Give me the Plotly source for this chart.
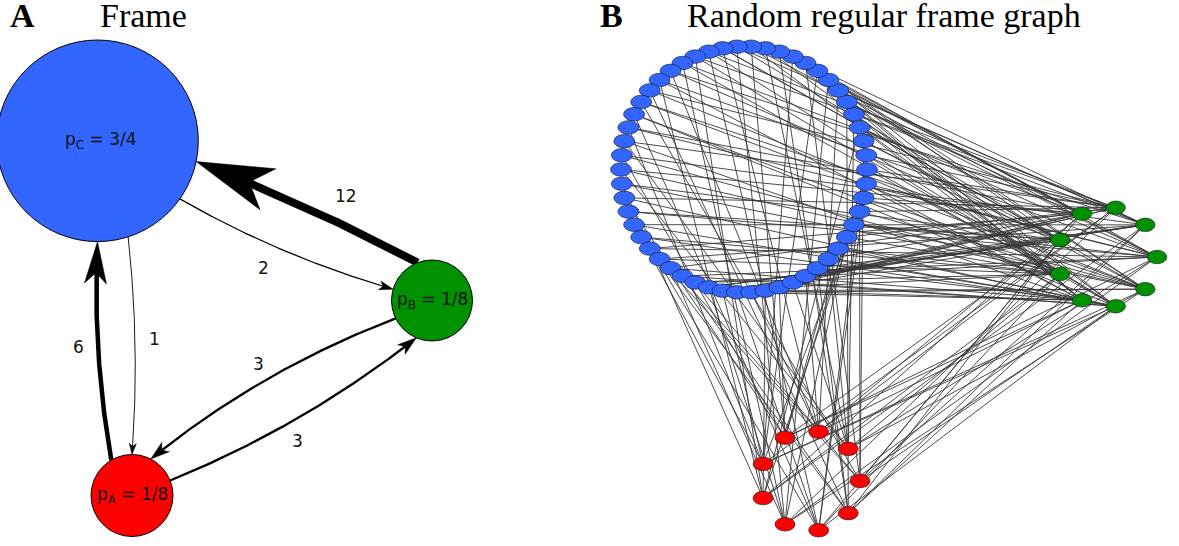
import numpy as np
import plotly.graph_objects as go

W, H = 1179, 546

# ---------------- Panel A : the frame ----------------
frame_nodes = ["A", "B", "C"]
frame_probs = ["1/8", "1/8", "3/4"]
frame_colors = ["#ff0000", "#009100", "#3366ff"]

# frame edges (source, target, weight)
edge_src = ["B", "C", "C", "A", "B", "A"]
edge_dst = ["C", "B", "A", "C", "A", "B"]
edge_weights = [12, 2, 1, 6, 3, 3]

# ---------------- Panel B : random regular frame graph ----------------
n_red, n_green, n_blue = 9, 9, 54
# each blue (C) node: its single red (A) neighbour
blue_red = [3, 7, 0, 5, 1, 8, 2, 6, 4, 0, 4, 8, 1, 3, 6, 2, 7, 5,
            6, 2, 5, 8, 0, 7, 4, 1, 3, 1, 5, 3, 7, 2, 4, 8, 0, 6,
            8, 0, 6, 4, 7, 2, 5, 3, 1, 2, 8, 1, 3, 6, 5, 0, 4, 7]
# each blue (C) node: its two green (B) neighbours
blue_green = [(5, 2), (2, 7), (8, 4), (0, 6), (6, 1), (3, 0), (1, 5), (7, 3), (4, 8),
              (1, 6), (6, 0), (3, 8), (7, 3), (0, 5), (4, 1), (8, 4), (2, 7), (5, 2),
              (7, 3), (4, 1), (0, 6), (2, 8), (8, 4), (5, 7), (3, 0), (6, 2), (1, 5),
              (3, 8), (8, 4), (6, 2), (4, 0), (1, 7), (7, 5), (0, 3), (5, 1), (2, 6),
              (0, 7), (5, 0), (1, 4), (8, 1), (3, 6), (2, 8), (6, 2), (4, 5), (7, 3),
              (4, 1), (1, 6), (7, 3), (5, 7), (2, 5), (0, 4), (8, 2), (3, 8), (6, 0)]
# each red (A) node: its three green (B) neighbours
red_green = [(1, 4, 7), (0, 5, 8), (2, 3, 6), (4, 6, 0), (7, 2, 8),
             (3, 1, 5), (8, 0, 2), (5, 7, 3), (6, 1, 4)]

# ---------------- layout / style ----------------
frame_cx = [132, 432, 97.5]
frame_cy = [495.5, 300.5, 140.8]
frame_r = [41, 40.5, 100.8]

e_src_ang = [-110.7, 35.2, 72.3, -120.3, 153.7, -21.5]
e_dst_ang = [11.9, -163.8, -90.0, 90.0, -62.8, 112.7]
e_bend = [0.03, 0.06, -0.046, -0.056, 0.08, 0.07]
e_width = [8, 1.3, 0.9, 4.5, 2.3, 2.3]
e_arrow_len = [77, 14, 11, 42, 19, 19]
e_arrow_hw = [22, 4.5, 3.5, 11, 6, 6]
e_label_xy = [(346, 196), (263, 268), (154, 339), (78, 347), (258, 364), (297, 441)]

fig = go.Figure()
shapes = []
annotations = []


def on_circle(node, ang):
    i = frame_nodes.index(node)
    a = np.radians(ang)
    return np.array([frame_cx[i] + frame_r[i] * np.cos(a),
                     frame_cy[i] + frame_r[i] * np.sin(a)])


for k in range(len(edge_weights)):
    p0 = on_circle(edge_src[k], e_src_ang[k])
    p2 = on_circle(edge_dst[k], e_dst_ang[k])
    d = p2 - p0
    L = np.hypot(*d)
    perp = np.array([-d[1], d[0]]) / L
    c = (p0 + p2) / 2 + e_bend[k] * L * perp
    t = np.linspace(0, 1, 120)[:, None]
    pts = (1 - t) ** 2 * p0 + 2 * (1 - t) * t * c + t ** 2 * p2
    u = p2 - c
    u = u / np.hypot(*u)
    n = np.array([-u[1], u[0]])
    alen, hw = e_arrow_len[k], e_arrow_hw[k]
    cut = 0.5 * alen
    dist = np.hypot(pts[:, 0] - p2[0], pts[:, 1] - p2[1])
    keep = pts[dist >= cut]
    fig.add_trace(go.Scatter(x=keep[:, 0], y=keep[:, 1], mode="lines",
                             line=dict(color="black", width=e_width[k]),
                             hoverinfo="skip", showlegend=False))
    poly = np.array([p2,
                     p2 - u * alen + n * hw,
                     p2 - u * 0.74 * alen,
                     p2 - u * alen - n * hw,
                     p2])
    fig.add_trace(go.Scatter(x=poly[:, 0], y=poly[:, 1], mode="lines", fill="toself",
                             fillcolor="black", line=dict(color="black", width=0.5),
                             hoverinfo="skip", showlegend=False))
    annotations.append(dict(x=e_label_xy[k][0], y=e_label_xy[k][1], text=str(edge_weights[k]),
                            showarrow=False, xanchor="center", yanchor="middle",
                            font=dict(family="DejaVu Sans", size=17, color="#111")))

for i, nm in enumerate(frame_nodes):
    shapes.append(dict(type="circle", xref="x", yref="y",
                       x0=frame_cx[i] - frame_r[i], x1=frame_cx[i] + frame_r[i],
                       y0=frame_cy[i] - frame_r[i], y1=frame_cy[i] + frame_r[i],
                       fillcolor=frame_colors[i], line=dict(color="black", width=1)))
    annotations.append(dict(x=frame_cx[i] + (3 if nm == "C" else 0), y=frame_cy[i],
                            text="p<sub>%s</sub> = %s" % (nm, frame_probs[i]),
                            showarrow=False, xanchor="center", yanchor="middle",
                            font=dict(family="DejaVu Sans", size=17, color="#111")))

# ---------------- Panel B geometry ----------------
def ring(n, cx, cy, r):
    a = np.radians(np.arange(n) * 360.0 / n)
    return cx + r * np.cos(a), cy - r * np.sin(a)

bx, by = ring(n_blue, 744, 169.5, 123)
gx, gy = ring(n_green, 1107, 257, 50)
rx, ry = ring(n_red, 810, 481, 50)

ex, ey = [], []
for i in range(n_blue):
    j = blue_red[i]
    ex += [bx[i], rx[j], None]
    ey += [by[i], ry[j], None]
    for g in blue_green[i]:
        ex += [bx[i], gx[g], None]
        ey += [by[i], gy[g], None]
for j in range(n_red):
    for g in red_green[j]:
        ex += [rx[j], gx[g], None]
        ey += [ry[j], gy[g], None]

fig.add_trace(go.Scatter(x=ex, y=ey, mode="lines",
                         line=dict(color="rgba(55,55,55,0.9)", width=1.0),
                         hoverinfo="skip", showlegend=False))


def ellipse_nodes(xs, ys, w, h, color):
    for x, y in zip(xs, ys):
        shapes.append(dict(type="circle", xref="x", yref="y",
                           x0=x - w / 2, x1=x + w / 2, y0=y - h / 2, y1=y + h / 2,
                           fillcolor=color, line=dict(color="rgba(20,20,40,0.9)", width=0.7)))

ellipse_nodes(bx, by, 21, 13.5, "#3366ff")
ellipse_nodes(gx, gy, 19.5, 13.5, "#009100")
ellipse_nodes(rx, ry, 20, 13.5, "#ff0000")

# ---------------- titles ----------------
title_font = dict(family="Liberation Serif", size=34, color="black")
for x, txt in [(8, "<b>A</b>"), (98, "Frame"), (598, "<b>B</b>"), (685, "Random regular frame graph")]:
    annotations.append(dict(x=x, y=15, text=txt, showarrow=False, xanchor="left",
                            yanchor="middle", font=title_font))

fig.update_layout(
    width=W, height=H, margin=dict(l=0, r=0, t=0, b=0),
    paper_bgcolor="white", plot_bgcolor="white",
    xaxis=dict(range=[0, W], visible=False, fixedrange=True),
    yaxis=dict(range=[H, 0], visible=False, fixedrange=True),
    shapes=shapes, annotations=annotations, showlegend=False,
)

fig.write_html("out.html", config={"displayModeBar": False},
               post_script="document.body.style.margin='0';document.body.style.overflow='hidden';")
